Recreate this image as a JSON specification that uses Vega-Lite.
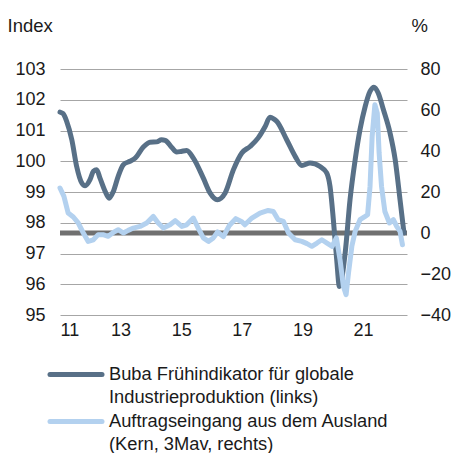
{
  "$schema": "https://vega.github.io/schema/vega-lite/v6.json",
  "autosize": "none",
  "width": 347,
  "height": 246,
  "padding": {"left": 60, "top": 69, "right": 44, "bottom": 138},
  "background": "white",
  "config": {
    "view": {"stroke": null},
    "font": "Liberation Sans",
    "axis": {"labelFont": "Liberation Sans", "labelFontSize": 18, "labelColor": "#1a1a1a", "labelOverlap": false, "titleFont": "Liberation Sans", "titleFontSize": 18.5, "titleFontWeight": "normal", "titleColor": "#1a1a1a"}
  },
  "datasets": {
    "buba": [
      {"t": 11.0, "v": 101.6}, {"t": 11.1, "v": 101.55}, {"t": 11.22, "v": 101.3}, {"t": 11.39, "v": 100.7},
      {"t": 11.55, "v": 99.83}, {"t": 11.72, "v": 99.29}, {"t": 11.83, "v": 99.2}, {"t": 11.99, "v": 99.4},
      {"t": 12.1, "v": 99.67}, {"t": 12.21, "v": 99.72}, {"t": 12.32, "v": 99.45}, {"t": 12.49, "v": 99.02},
      {"t": 12.62, "v": 98.8}, {"t": 12.76, "v": 99.02}, {"t": 12.92, "v": 99.51}, {"t": 13.09, "v": 99.89},
      {"t": 13.31, "v": 100.0}, {"t": 13.48, "v": 100.1}, {"t": 13.75, "v": 100.46}, {"t": 13.97, "v": 100.62},
      {"t": 14.19, "v": 100.63}, {"t": 14.35, "v": 100.7}, {"t": 14.47, "v": 100.68}, {"t": 14.69, "v": 100.45},
      {"t": 14.85, "v": 100.3}, {"t": 15.0, "v": 100.32}, {"t": 15.18, "v": 100.35}, {"t": 15.4, "v": 100.1},
      {"t": 15.73, "v": 99.45}, {"t": 15.95, "v": 98.97}, {"t": 16.19, "v": 98.75}, {"t": 16.45, "v": 98.97},
      {"t": 16.72, "v": 99.72}, {"t": 17.0, "v": 100.27}, {"t": 17.27, "v": 100.48}, {"t": 17.54, "v": 100.76},
      {"t": 17.77, "v": 101.13}, {"t": 17.93, "v": 101.43}, {"t": 18.05, "v": 101.38}, {"t": 18.15, "v": 101.3},
      {"t": 18.48, "v": 100.7}, {"t": 18.76, "v": 100.16}, {"t": 18.98, "v": 99.86}, {"t": 19.25, "v": 99.94},
      {"t": 19.58, "v": 99.83}, {"t": 19.8, "v": 99.62}, {"t": 19.91, "v": 99.18}, {"t": 20.02, "v": 98.1},
      {"t": 20.13, "v": 96.8}, {"t": 20.22, "v": 95.93}, {"t": 20.41, "v": 97.02}, {"t": 20.57, "v": 98.75},
      {"t": 20.74, "v": 100.05}, {"t": 20.9, "v": 101.03}, {"t": 21.07, "v": 101.78}, {"t": 21.23, "v": 102.27},
      {"t": 21.36, "v": 102.41}, {"t": 21.5, "v": 102.22}, {"t": 21.67, "v": 101.68}, {"t": 21.89, "v": 100.92},
      {"t": 22.06, "v": 100.05}, {"t": 22.22, "v": 98.75}, {"t": 22.35, "v": 97.67}
    ],
    "auftrag": [
      {"t": 11.0, "v": 21.95}, {"t": 11.13, "v": 17.9}, {"t": 11.27, "v": 9.75}, {"t": 11.44, "v": 7.8},
      {"t": 11.6, "v": 4.9}, {"t": 11.77, "v": 0.0}, {"t": 11.93, "v": -4.1}, {"t": 12.1, "v": -3.3},
      {"t": 12.26, "v": -0.8}, {"t": 12.42, "v": -0.8}, {"t": 12.59, "v": -1.6}, {"t": 12.76, "v": 0.3},
      {"t": 12.92, "v": 1.6}, {"t": 13.09, "v": 0.0}, {"t": 13.25, "v": 1.3}, {"t": 13.42, "v": 2.4},
      {"t": 13.64, "v": 3.2}, {"t": 13.86, "v": 4.9}, {"t": 14.08, "v": 8.1}, {"t": 14.24, "v": 4.9},
      {"t": 14.41, "v": 2.4}, {"t": 14.63, "v": 4.0}, {"t": 14.8, "v": 6.0}, {"t": 15.02, "v": 3.2},
      {"t": 15.18, "v": 4.0}, {"t": 15.4, "v": 7.3}, {"t": 15.56, "v": 2.4}, {"t": 15.73, "v": -2.4},
      {"t": 15.9, "v": -4.1}, {"t": 16.06, "v": -2.4}, {"t": 16.2, "v": 0.5}, {"t": 16.39, "v": -1.8},
      {"t": 16.58, "v": 3.5}, {"t": 16.8, "v": 7.0}, {"t": 17.0, "v": 5.5}, {"t": 17.1, "v": 4.0},
      {"t": 17.33, "v": 7.3}, {"t": 17.6, "v": 9.75}, {"t": 17.87, "v": 11.0}, {"t": 18.04, "v": 10.5},
      {"t": 18.2, "v": 6.5}, {"t": 18.37, "v": 5.7}, {"t": 18.54, "v": 0.0}, {"t": 18.76, "v": -3.3},
      {"t": 18.98, "v": -4.1}, {"t": 19.15, "v": -5.2}, {"t": 19.31, "v": -6.5}, {"t": 19.48, "v": -4.9},
      {"t": 19.64, "v": -3.3}, {"t": 19.81, "v": -4.9}, {"t": 19.98, "v": -6.5}, {"t": 20.12, "v": -2.4},
      {"t": 20.24, "v": -13}, {"t": 20.35, "v": -26}, {"t": 20.44, "v": -30.1}, {"t": 20.52, "v": -19.5},
      {"t": 20.63, "v": -6.5}, {"t": 20.74, "v": 0.8}, {"t": 20.9, "v": 6.5}, {"t": 21.07, "v": 8.1},
      {"t": 21.15, "v": 8.9}, {"t": 21.23, "v": 22.7}, {"t": 21.3, "v": 47.1}, {"t": 21.39, "v": 62.6},
      {"t": 21.47, "v": 58.5}, {"t": 21.53, "v": 39.0}, {"t": 21.61, "v": 22.7}, {"t": 21.72, "v": 10.5},
      {"t": 21.87, "v": 4.9}, {"t": 22.0, "v": 6.5}, {"t": 22.11, "v": 3.2}, {"t": 22.22, "v": 0.8},
      {"t": 22.3, "v": -5.7}
    ],
    "baseline": [{"name": "Nulllinie"}]
  },
  "encoding": {
    "x": {
      "field": "t", "type": "quantitative",
      "scale": {"domain": [11, 22.45], "nice": false, "zero": false},
      "axis": {"title": null, "values": [11, 13, 15, 17, 19, 21], "format": "d", "grid": false, "ticks": false, "domain": false, "labelPadding": 6}
    }
  },
  "layer": [
    {
      "layer": [
        {
          "data": {"name": "baseline"},
          "mark": {"type": "rule", "color": "#707070", "strokeWidth": 5},
          "encoding": {
            "y": {
              "datum": 97.6667, "type": "quantitative",
              "scale": {"domain": [95, 103], "nice": false, "zero": false},
              "axis": {"orient": "left", "values": [95, 96, 97, 98, 99, 100, 101, 102, 103], "grid": true, "gridColor": "#a6a6a6", "gridWidth": 1, "gridOpacity": 1, "ticks": false, "domain": false, "labelPadding": 15, "labelOverlap": false, "title": "Index", "titleAngle": 0, "titleAlign": "left", "titleBaseline": "alphabetic", "titleX": -53, "titleY": -38}
            },
            "x": {"value": 0}, "x2": {"value": 347}
          }
        },
        {
          "data": {"name": "buba"},
          "mark": {"type": "line", "strokeWidth": 5, "interpolate": "monotone", "strokeCap": "round"},
          "encoding": {
            "y": {
              "field": "v", "type": "quantitative",
              "scale": {"domain": [95, 103], "nice": false, "zero": false},
              "axis": {"orient": "left", "values": [95, 96, 97, 98, 99, 100, 101, 102, 103], "grid": true, "gridColor": "#a6a6a6", "gridWidth": 1, "gridOpacity": 1, "ticks": false, "domain": false, "labelPadding": 15, "labelOverlap": false, "title": "Index", "titleAngle": 0, "titleAlign": "left", "titleBaseline": "alphabetic", "titleX": -53, "titleY": -38}
            },
            "color": {"datum": "Buba Frühindikator für globale|Industrieproduktion (links)"}
          }
        }
      ]
    },
    {
      "data": {"name": "auftrag"},
      "mark": {"type": "line", "strokeWidth": 5, "strokeCap": "round", "strokeJoin": "round"},
      "encoding": {
        "y": {
          "field": "v", "type": "quantitative",
          "scale": {"domain": [-40, 80], "nice": false, "zero": false},
          "axis": {"orient": "right", "values": [-40, -20, 0, 20, 40, 60, 80], "grid": false, "ticks": false, "domain": false, "labelPadding": 13, "labelOverlap": false, "title": "%", "titleAngle": 0, "titleAlign": "left", "titleBaseline": "alphabetic", "titleX": 4, "titleY": -38}
        },
        "color": {
          "datum": "Auftragseingang aus dem Ausland|(Kern, 3Mav, rechts)",
          "scale": {
            "domain": ["Buba Frühindikator für globale|Industrieproduktion (links)", "Auftragseingang aus dem Ausland|(Kern, 3Mav, rechts)"],
            "range": ["#587087", "#b3d1ef"]
          },
          "legend": {
            "title": null, "orient": "none", "legendX": 0.5, "legendY": 290, "direction": "vertical",
            "symbolType": "M-2,0H2", "symbolSize": 676, "symbolStrokeWidth": 5,
            "labelExpr": "split(datum.label, '|')", "labelFont": "Liberation Sans", "labelFontSize": 18.3, "labelColor": "#1a1a1a", "labelLimit": 400, "labelOffset": 17.5, "rowPadding": 0,
            "encode": {"symbols": {"update": {"strokeCap": {"value": "round"}}}, "labels": {"update": {"lineHeight": {"value": 23}}}}
          }
        }
      }
    }
  ],
  "resolve": {"scale": {"y": "independent"}}
}
